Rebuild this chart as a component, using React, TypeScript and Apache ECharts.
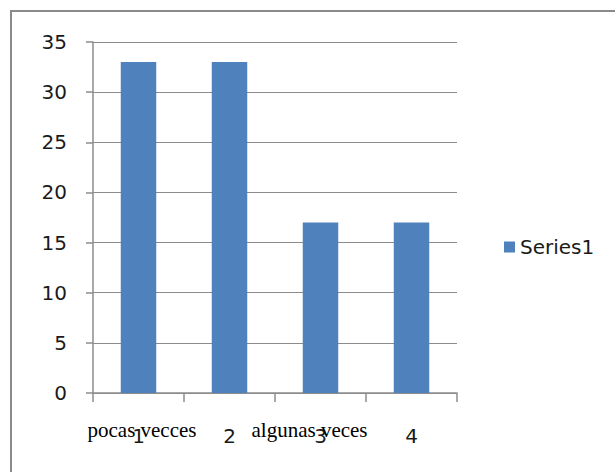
import React, { useEffect, useRef } from "react";
import * as echarts from "echarts";

const categories = ["1", "2", "3", "4"];
const seriesName = "Series1";
const values = [33, 33, 17, 17];
const overlayLabels = ["pocas vecces", "algunas veces"];
const overlayCenters = [142, 309.5];

export default function App() {
  const ref = useRef<HTMLDivElement>(null);
  useEffect(() => {
    const chart = echarts.init(ref.current!, null, { renderer: "svg" });
    const gridLeft = 93, gridRight = 158, gridTop = 42, gridBottom = 79;
    chart.setOption({
      animation: false,
      backgroundColor: "#ffffff",
      grid: { left: gridLeft, right: gridRight, top: gridTop, bottom: gridBottom, containLabel: false },
      legend: {
        data: [seriesName],
        orient: "vertical",
        left: 499,
        top: 232,
        itemWidth: 11,
        itemHeight: 11,
        itemGap: 6,
        icon: "rect",
        textStyle: { fontFamily: "DejaVu Sans", fontSize: 20, color: "#1a1a1a", padding: [0, 0, 0, 0] },
      },
      xAxis: {
        type: "category",
        data: categories,
        boundaryGap: true,
        axisLine: { lineStyle: { color: "#8c8c8c", width: 1.5 } },
        axisTick: { show: true, length: 9, inside: false, lineStyle: { color: "#8c8c8c", width: 1.5 } },
        axisLabel: { fontFamily: "DejaVu Sans", fontSize: 20, color: "#1a1a1a", margin: 33 },
        splitLine: { show: false },
      },
      yAxis: {
        type: "value",
        min: 0,
        max: 35,
        interval: 5,
        axisLine: { show: true, lineStyle: { color: "#8c8c8c", width: 1.5 } },
        axisTick: { show: true, length: 7, lineStyle: { color: "#8c8c8c", width: 1.5 } },
        axisLabel: { fontFamily: "DejaVu Sans", fontSize: 20, color: "#1a1a1a", margin: 26 },
        splitLine: { show: true, lineStyle: { color: "#8c8c8c", width: 1.2 } },
      },
      series: [
        {
          name: seriesName,
          type: "bar",
          data: values,
          barWidth: "39%",
          itemStyle: { color: "#4F81BD" },
        },
      ],
      graphic: [
        {
          type: "rect",
          shape: { x: 11, y: 11, width: 620, height: 480 },
          style: { fill: "none", stroke: "#8a8a8a", lineWidth: 2 },
          silent: true,
        },
        ...overlayLabels.map((t, i) => ({
          type: "text",
          x: overlayCenters[i],
          y: 430,
          style: {
            text: t,
            fontFamily: "Liberation Serif",
            fontSize: 21,
            fill: "#000000",
            align: "center",
            verticalAlign: "middle",
          },
          z: 10,
        })),
      ],
    });
    return () => chart.dispose();
  }, []);
  return (
    <div
      ref={ref}
      style={{ position: "fixed", left: 0, top: 0, width: 615, height: 472 }}
    />
  );
}
